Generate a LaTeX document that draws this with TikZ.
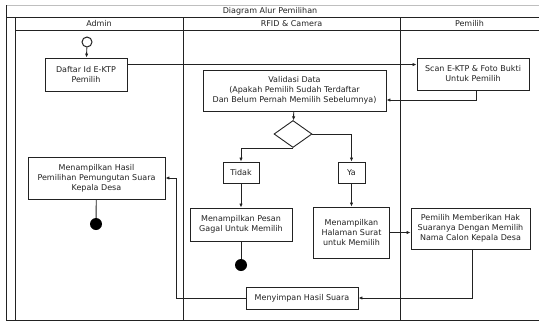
\documentclass[tikz,border=0pt]{standalone}
\usepackage{fontspec}
\setmainfont{DejaVu Sans}
\usetikzlibrary{arrows.meta,shapes.geometric}
\definecolor{ink}{HTML}{222222}
\begin{document}
\begin{tikzpicture}[x=1pt,y=-1pt,
  font=\fontsize{8}{10}\selectfont,
  frame/.style={draw=ink,line width=0.9pt},
  box/.style={draw=ink,line width=0.9pt,align=center,inner sep=0pt,fill=white,text=ink},
  conn/.style={draw=ink,line width=0.9pt},
  arr/.style={conn,-{Latex[length=4pt,width=3.4pt]}},
  dot/.style={circle,fill=black,inner sep=0pt,minimum size=12pt},
  startc/.style={circle,draw=ink,line width=1pt,inner sep=0pt,minimum size=10pt}
]
\useasboundingbox (0,0) rectangle (539,322);
% frame
\draw[draw=gray!50,line width=0.9pt] (6,5) -- (539,5);
\draw[frame] (6,5) -- (6,320);
\draw[frame] (6,17) -- (539,17);
\draw[frame] (15,30) -- (539,30);
\draw[frame] (15,17) -- (15,320);
\draw[frame] (183,17) -- (183,320);
\draw[frame] (400,17) -- (400,320);
\draw[frame] (6,320) -- (539,320);
\node[text=ink] (title) at (270,11) {Diagram Alur Pemilihan};
\node[text=ink] (hadmin) at (99,23.5) {Admin};
\node[text=ink] (hrfid) at (291.5,23.5) {RFID \& Camera};
\node[text=ink] (hpemilih) at (469.5,23.5) {Pemilih};
% nodes
\node[startc] (start) at (87,42) {};
\node[box,minimum width=82pt,minimum height=33pt] (daftar) at (86,74.5) {Daftar Id E-KTP\\Pemilih};
\node[box,minimum width=112pt,minimum height=32pt] (scan) at (473,74) {Scan E-KTP \& Foto Bukti\\Untuk Pemilih};
\node[box,minimum width=183pt,minimum height=41pt] (valid) at (294.5,90.5) {Validasi Data\\(Apakah Pemilih Sudah Terdaftar\\Dan Belum Pernah Memilih Sebelumnya)};
\node[diamond,draw=ink,line width=0.9pt,inner sep=0pt,minimum width=38pt,minimum height=27pt] (dia) at (293,134) {};
\node[box,minimum width=36pt,minimum height=21pt] (tidak) at (241,172.5) {Tidak};
\node[box,minimum width=27pt,minimum height=21pt] (ya) at (351.5,172.5) {Ya};
\node[box,minimum width=102pt,minimum height=33pt] (pesan) at (241,224.5) {Menampilkan Pesan\\Gagal Untuk Memilih};
\node[box,minimum width=76pt,minimum height=51pt] (halaman) at (351.5,232.5) {Menampilkan\\Halaman Surat\\untuk Memilih};
\node[box,minimum width=119pt,minimum height=41pt] (beri) at (470.5,228.5) {Pemilih Memberikan Hak\\Suaranya Dengan Memilih\\Nama Calon Kepala Desa};
\node[box,minimum width=112pt,minimum height=22pt] (simpan) at (302,298) {Menyimpan Hasil Suara};
\node[box,minimum width=137pt,minimum height=42pt] (hasil) at (96.5,178) {Menampilkan Hasil\\Pemilihan Pemungutan Suara\\Kepala Desa};
\node[dot] (end1) at (96,224) {};
\node[dot] (end2) at (241,265) {};
% connectors
\draw[arr] (start) -- (daftar);
\draw[arr] (daftar.north east) ++(0,7) coordinate (a1) -- (a1 -| scan.west);
\draw[arr] ([xshift=3pt]scan.south) |- ([yshift=-9.5pt]valid.east);
\draw[arr] (valid) -- (dia);
\draw[arr] (dia.south) -| (tidak.north);
\draw[arr] (dia.east) -| (ya.north);
\draw[arr] (tidak) -- (pesan);
\draw[arr] (ya) -- (halaman);
\draw[conn] (pesan) -- (end2);
\draw[arr] (halaman.east) -- (halaman.east -| beri.west);
\draw[arr] ([xshift=1.5pt]beri.south) |- (simpan.east);
\draw[arr] (simpan.west) -- ++(-69,0) |- (hasil.east);
\draw[conn] (hasil) -- (end1);
\end{tikzpicture}
\end{document}
